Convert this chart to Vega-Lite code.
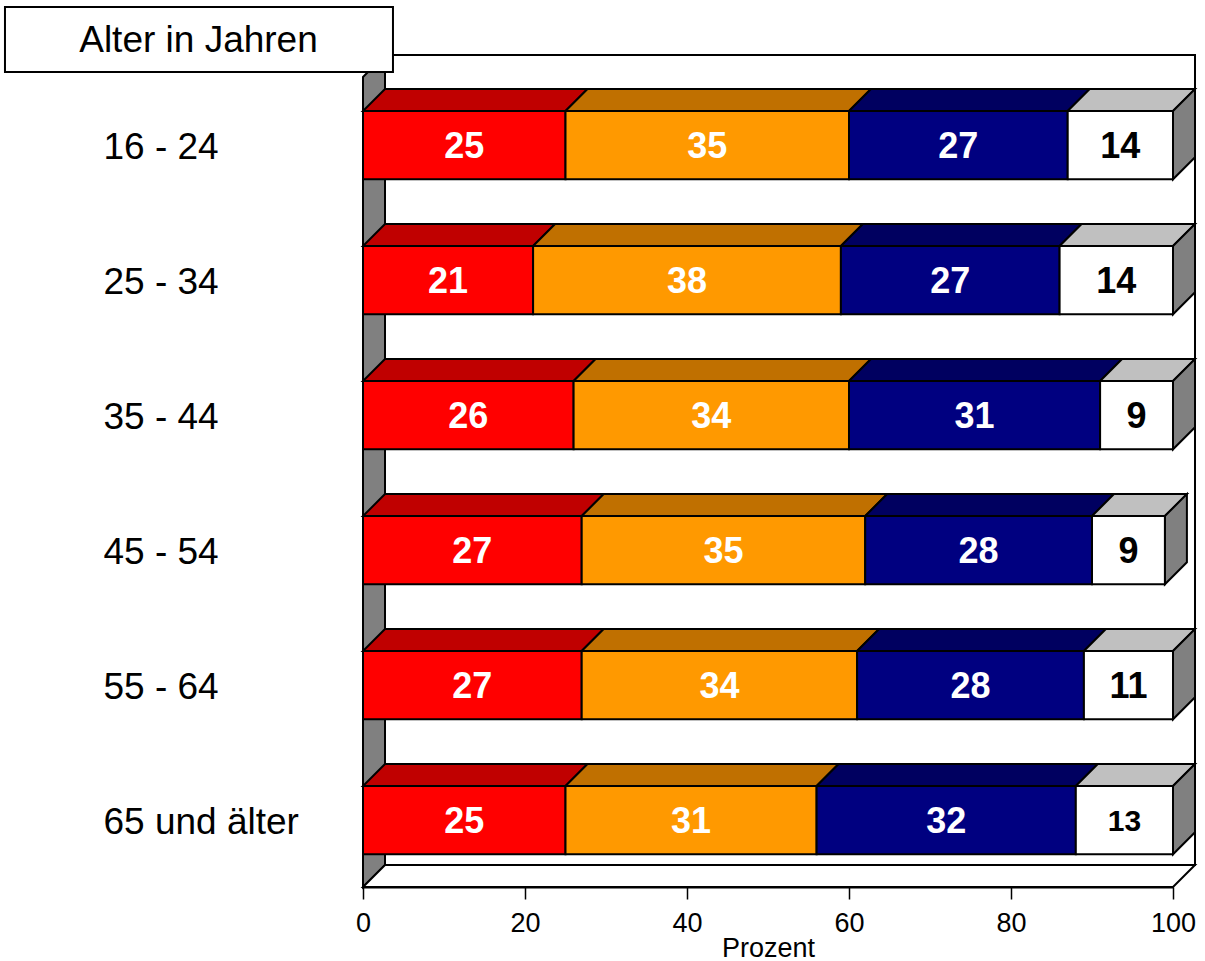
{
  "$schema": "https://vega.github.io/schema/vega-lite/v6.json",
  "autosize": "none",
  "width": 810,
  "height": 832,
  "padding": {"left": 363, "top": 55, "right": 32, "bottom": 74},
  "background": "white",
  "config": {
    "font": "Liberation Sans",
    "view": {"stroke": null},
    "axis": {"grid": false}
  },
  "params": [
    {"name": "dx", "value": 2.716},
    {"name": "dy", "value": 0.163},
    {"name": "hh", "value": 0.2526}
  ],
  "datasets": {
    "umfrage": [
      {"Alter": "16 - 24", "Kategorie": "Kategorie 1", "Anteil": 25, "Wert": 25},
      {"Alter": "16 - 24", "Kategorie": "Kategorie 2", "Anteil": 35, "Wert": 35},
      {"Alter": "16 - 24", "Kategorie": "Kategorie 3", "Anteil": 27, "Wert": 27},
      {"Alter": "16 - 24", "Kategorie": "Kategorie 4", "Anteil": 13, "Wert": 14},
      {"Alter": "25 - 34", "Kategorie": "Kategorie 1", "Anteil": 21, "Wert": 21},
      {"Alter": "25 - 34", "Kategorie": "Kategorie 2", "Anteil": 38, "Wert": 38},
      {"Alter": "25 - 34", "Kategorie": "Kategorie 3", "Anteil": 27, "Wert": 27},
      {"Alter": "25 - 34", "Kategorie": "Kategorie 4", "Anteil": 14, "Wert": 14},
      {"Alter": "35 - 44", "Kategorie": "Kategorie 1", "Anteil": 26, "Wert": 26},
      {"Alter": "35 - 44", "Kategorie": "Kategorie 2", "Anteil": 34, "Wert": 34},
      {"Alter": "35 - 44", "Kategorie": "Kategorie 3", "Anteil": 31, "Wert": 31},
      {"Alter": "35 - 44", "Kategorie": "Kategorie 4", "Anteil": 9, "Wert": 9},
      {"Alter": "45 - 54", "Kategorie": "Kategorie 1", "Anteil": 27, "Wert": 27},
      {"Alter": "45 - 54", "Kategorie": "Kategorie 2", "Anteil": 35, "Wert": 35},
      {"Alter": "45 - 54", "Kategorie": "Kategorie 3", "Anteil": 28, "Wert": 28},
      {"Alter": "45 - 54", "Kategorie": "Kategorie 4", "Anteil": 9, "Wert": 9},
      {"Alter": "55 - 64", "Kategorie": "Kategorie 1", "Anteil": 27, "Wert": 27},
      {"Alter": "55 - 64", "Kategorie": "Kategorie 2", "Anteil": 34, "Wert": 34},
      {"Alter": "55 - 64", "Kategorie": "Kategorie 3", "Anteil": 28, "Wert": 28},
      {"Alter": "55 - 64", "Kategorie": "Kategorie 4", "Anteil": 11, "Wert": 11},
      {"Alter": "65 und älter", "Kategorie": "Kategorie 1", "Anteil": 25, "Wert": 25},
      {"Alter": "65 und älter", "Kategorie": "Kategorie 2", "Anteil": 31, "Wert": 31},
      {"Alter": "65 und älter", "Kategorie": "Kategorie 3", "Anteil": 32, "Wert": 32},
      {"Alter": "65 und älter", "Kategorie": "Kategorie 4", "Anteil": 12, "Wert": 13}
    ],
    "rahmen": [
      {"Kante": "vorne"},
      {"Kante": "hinten"}
    ],
    "titel": [
      {"Titel": "Alter in Jahren"}
    ]
  },
  "layer": [
    {
      "data": {"name": "rahmen"},
      "transform": [
        {"calculate": "datum.Kante === 'hinten' ? 1 : 0", "as": "k"},
        {"calculate": "datum.k * dx", "as": "xw"},
        {"calculate": "100 + datum.k * dx", "as": "xr"},
        {"calculate": "-0.668 + (1 - datum.k) * dy", "as": "yo"},
        {"calculate": "5.495 - datum.k * dy", "as": "yu"}
      ],
      "layer": [
        {
          "transform": [{"filter": "datum.k === 1"}],
          "mark": {"type": "rect", "fill": "white", "stroke": "black", "strokeWidth": 2},
          "encoding": {
            "x": {"field": "xw", "type": "quantitative", "scale": {"domain": [0, 100], "nice": false, "zero": false}},
            "x2": {"field": "xr"},
            "y": {"field": "yo", "type": "quantitative", "scale": {"domain": [-0.668, 5.495], "reverse": true, "nice": false, "zero": false}},
            "y2": {"field": "yu"}
          }
        },
        {
          "mark": {"type": "area", "orient": "vertical", "fill": "#808080", "stroke": "black", "strokeWidth": 2},
          "encoding": {
            "x": {"field": "xw", "type": "quantitative", "scale": {"domain": [0, 100], "nice": false, "zero": false}},
            "y": {"field": "yo", "type": "quantitative", "stack": null, "scale": {"domain": [-0.668, 5.495], "reverse": true, "nice": false, "zero": false}},
            "y2": {"field": "yu"}
          }
        },
        {
          "mark": {"type": "area", "orient": "horizontal", "fill": "white", "stroke": "black", "strokeWidth": 2},
          "encoding": {
            "y": {"field": "yu", "type": "quantitative", "scale": {"domain": [-0.668, 5.495], "reverse": true, "nice": false, "zero": false}},
            "x": {"field": "xw", "type": "quantitative", "stack": null, "scale": {"domain": [0, 100], "nice": false, "zero": false}},
            "x2": {"field": "xr"}
          }
        }
      ]
    },
    {
      "data": {"name": "umfrage"},
      "transform": [
        {"calculate": "indexof(['16 - 24','25 - 34','35 - 44','45 - 54','55 - 64','65 und älter'], datum.Alter)", "as": "Zeile"},
        {"stack": "Anteil", "groupby": ["Alter"], "sort": [{"field": "Kategorie"}], "as": ["x0", "x1"]}
      ],
      "layer": [
        {
          "transform": [
            {"calculate": "[0, 1]", "as": "k"},
            {"flatten": ["k"]},
            {"calculate": "datum.x0 + datum.k * dx", "as": "xa"},
            {"calculate": "datum.x1 + datum.k * dx", "as": "xb"},
            {"calculate": "datum.Zeile - hh - datum.k * dy", "as": "yt"}
          ],
          "mark": {"type": "area", "orient": "horizontal", "stroke": "black", "strokeWidth": 2},
          "encoding": {
            "y": {"field": "yt", "type": "quantitative", "scale": {"domain": [-0.668, 5.495], "reverse": true, "nice": false, "zero": false}},
            "x": {"field": "xa", "type": "quantitative", "stack": null, "scale": {"domain": [0, 100], "nice": false, "zero": false}},
            "x2": {"field": "xb"},
            "color": {"field": "Kategorie", "type": "nominal", "scale": {"domain": ["Kategorie 1", "Kategorie 2", "Kategorie 3", "Kategorie 4"], "range": ["#C00000", "#C07000", "#000060", "#C0C0C0"]}, "legend": null},
            "detail": {"field": "Alter"}
          }
        },
        {
          "transform": [
            {"filter": "datum.Kategorie === 'Kategorie 4'"},
            {"calculate": "[0, 1]", "as": "k"},
            {"flatten": ["k"]},
            {"calculate": "datum.x1 + datum.k * dx", "as": "xs"},
            {"calculate": "datum.Zeile - hh - datum.k * dy", "as": "ya"},
            {"calculate": "datum.Zeile + hh - datum.k * dy", "as": "yb"}
          ],
          "mark": {"type": "area", "orient": "vertical", "fill": "#808080", "stroke": "black", "strokeWidth": 2},
          "encoding": {
            "x": {"field": "xs", "type": "quantitative", "scale": {"domain": [0, 100], "nice": false, "zero": false}},
            "y": {"field": "ya", "type": "quantitative", "stack": null, "scale": {"domain": [-0.668, 5.495], "reverse": true, "nice": false, "zero": false}},
            "y2": {"field": "yb"},
            "detail": {"field": "Alter"}
          }
        },
        {
          "transform": [
            {"calculate": "datum.Zeile - hh", "as": "yf0"},
            {"calculate": "datum.Zeile + hh", "as": "yf1"}
          ],
          "mark": {"type": "rect", "stroke": "black", "strokeWidth": 2},
          "encoding": {
            "x": {"field": "x0", "type": "quantitative", "scale": {"domain": [0, 100], "nice": false, "zero": false},
                  "axis": {"values": [0, 20, 40, 60, 80, 100], "title": "Prozent", "zindex": 1, "tickSize": 12, "tickColor": "black", "tickWidth": 1.5, "domainColor": "black", "domainWidth": 2, "labelFontSize": 27, "labelPadding": 11, "labelColor": "black", "labelFlush": false, "labelOverlap": false, "titleFontSize": 27, "titleFontWeight": "normal", "titleColor": "black", "titleBaseline": "top", "titleY": 48}},
            "x2": {"field": "x1"},
            "y": {"field": "yf0", "type": "quantitative", "scale": {"domain": [-0.668, 5.495], "reverse": true, "nice": false, "zero": false},
                  "axis": {"values": [0, 1, 2, 3, 4, 5], "labelExpr": "['16 - 24','25 - 34','35 - 44','45 - 54','55 - 64','65 und älter'][datum.value]", "title": null, "ticks": false, "tickSize": 0, "domain": false, "labelAlign": "left", "labelBaseline": "middle", "labelPadding": 260, "labelOffset": 2, "labelFontSize": 37, "labelLimit": 0, "labelColor": "black", "labelOverlap": false}},
            "y2": {"field": "yf1"},
            "fill": {"field": "Kategorie", "type": "nominal", "scale": {"domain": ["Kategorie 1", "Kategorie 2", "Kategorie 3", "Kategorie 4"], "range": ["#FF0000", "#FF9900", "#000080", "#FFFFFF"]}, "legend": null}
          }
        },
        {
          "transform": [
            {"calculate": "(datum.x0 + datum.x1) / 2", "as": "xm"}
          ],
          "mark": {"type": "text", "fontWeight": "bold", "align": "center", "baseline": "middle", "dy": 2},
          "encoding": {
            "x": {"field": "xm", "type": "quantitative", "scale": {"domain": [0, 100], "nice": false, "zero": false}},
            "y": {"field": "Zeile", "type": "quantitative", "scale": {"domain": [-0.668, 5.495], "reverse": true, "nice": false, "zero": false}},
            "text": {"field": "Wert", "type": "quantitative"},
            "size": {"condition": {"test": "datum.Alter === '65 und älter' && datum.Kategorie === 'Kategorie 4'", "value": 30}, "value": 36},
            "color": {"condition": {"test": "datum.Kategorie === 'Kategorie 4'", "value": "black"}, "value": "white"}
          }
        }
      ]
    },
    {
      "data": {"name": "titel"},
      "layer": [
        {
          "mark": {"type": "rect", "fill": "white", "stroke": "black", "strokeWidth": 2},
          "encoding": {
            "x": {"datum": -44.2, "type": "quantitative", "scale": {"domain": [0, 100], "nice": false, "zero": false}},
            "x2": {"datum": 3.7},
            "y": {"datum": -1.0237, "type": "quantitative", "scale": {"domain": [-0.668, 5.495], "reverse": true, "nice": false, "zero": false}},
            "y2": {"datum": -0.5422}
          }
        },
        {
          "mark": {"type": "text", "fontSize": 37, "align": "center", "baseline": "middle", "dy": 2, "color": "black"},
          "encoding": {
            "x": {"datum": -20.31, "type": "quantitative", "scale": {"domain": [0, 100], "nice": false, "zero": false}},
            "y": {"datum": -0.783, "type": "quantitative", "scale": {"domain": [-0.668, 5.495], "reverse": true, "nice": false, "zero": false}},
            "text": {"field": "Titel"}
          }
        }
      ]
    }
  ]
}
